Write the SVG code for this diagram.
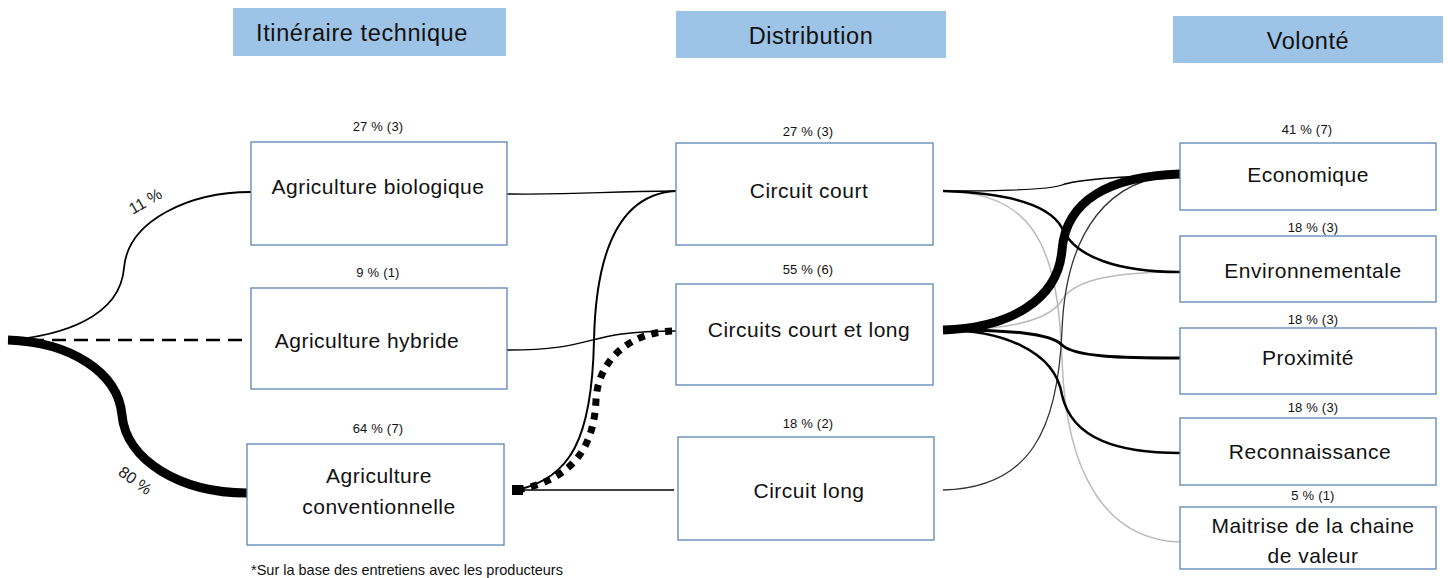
<svg xmlns="http://www.w3.org/2000/svg" width="1448" height="578" viewBox="0 0 1448 578">
<style>
.hdr{fill:#9DC3E6}
.ht{font-family:"Liberation Sans",Arial,sans-serif;font-size:23.5px;letter-spacing:0.6px;fill:#111;text-anchor:middle}
.box{fill:#fff;stroke:#5B85B5;stroke-width:1.3}
.nt{font-family:"Liberation Sans",Arial,sans-serif;font-size:21px;letter-spacing:0.5px;fill:#111;text-anchor:middle}
.pc{font-family:"Liberation Sans",Arial,sans-serif;font-size:13px;letter-spacing:0.2px;fill:#111;text-anchor:middle}
.c{fill:none;stroke:#000}
.g{fill:none;stroke:#bbb}
.d{fill:none;stroke:#333}
.lbl{font-family:"Liberation Sans",Arial,sans-serif;font-size:16px;fill:#222;text-anchor:middle}
</style>
<g id="headers">
<rect class="hdr" x="233" y="8" width="273" height="48"/><text class="ht" x="362" y="41">Itinéraire technique</text>
<rect class="hdr" x="676" y="11" width="270" height="47"/><text class="ht" x="811" y="44">Distribution</text>
<rect class="hdr" x="1173" y="16" width="270" height="47"/><text class="ht" x="1308" y="49">Volonté</text>
</g>
<g id="connectors">
<path class="c" stroke-width="1.8" d="M8,340 C60,336 120,318 124,268 C128,220 190,192 251,192"/>
<path class="c" stroke-width="2.5" stroke-dasharray="14,8" d="M8,340 L248,340"/>
<path class="c" stroke-width="9" d="M8,340 C70,342 118,372 122,415 C126,460 180,493 247,493"/>
<path class="c" stroke-width="1.3" d="M507,194 C590,195 600,191 676,191"/>
<path class="c" stroke-width="1.3" d="M507,350 C600,350 580,331 676,331"/>
<path class="c" stroke-width="1.3" d="M515,490 L674,490"/>
<path class="c" stroke-width="2" d="M517,490 C570,478 592,440 594,340 C596,250 620,194 676,191"/>
<path class="c" stroke-width="7" stroke-dasharray="7,7" d="M517,490 C570,480 594,450 596,400 C598,360 630,331 676,331"/>
<rect x="512" y="485" width="11" height="10" fill="#000"/>
<path class="g" stroke-width="1.5" d="M943,191 C1030,193 1058,240 1062,360 C1066,480 1110,540 1180,542"/>
<path class="g" stroke-width="1.5" d="M943,330 C1010,330 1050,320 1062,300 C1075,278 1120,272 1180,272"/>
<path class="d" stroke-width="1.3" d="M943,490 C1030,488 1058,430 1062,330 C1066,230 1110,177 1180,175"/>
<path class="c" stroke-width="1.3" d="M943,191 C1000,191 1050,190 1062,185 C1075,180 1120,176 1180,175"/>
<path class="c" stroke-width="2.5" d="M943,191 C1010,193 1050,205 1062,228 C1075,258 1120,272 1180,272"/>
<path class="c" stroke-width="3" d="M943,330 C1010,330 1050,333 1062,345 C1075,357 1120,358 1180,358"/>
<path class="c" stroke-width="2.5" d="M943,330 C1000,330 1055,350 1062,395 C1072,440 1120,453 1180,453"/>
<path class="c" stroke-width="9" d="M943,330 C1010,328 1058,300 1062,250 C1066,200 1110,176 1180,174"/>
</g>
<g id="n-bio"><rect class="box" x="251" y="142" width="256" height="103"/><text class="nt" x="378" y="194">Agriculture biologique</text><text class="pc" x="378" y="131">27 % (3)</text></g>
<g id="n-hyb"><rect class="box" x="251" y="288" width="256" height="101"/><text class="nt" x="367" y="348">Agriculture hybride</text><text class="pc" x="378" y="277">9 % (1)</text></g>
<g id="n-conv"><rect class="box" x="247" y="444" width="257" height="101"/><text class="nt" x="379" y="483">Agriculture</text><text class="nt" x="379" y="514">conventionnelle</text><text class="pc" x="378" y="433">64 % (7)</text></g>
<g id="n-court"><rect class="box" x="676" y="143" width="257" height="102"/><text class="nt" x="809" y="198">Circuit court</text><text class="pc" x="808" y="136">27 % (3)</text></g>
<g id="n-courtlong"><rect class="box" x="676" y="284" width="257" height="101"/><text class="nt" x="809" y="337">Circuits court et long</text><text class="pc" x="808" y="274">55 % (6)</text></g>
<g id="n-long"><rect class="box" x="678" y="437" width="256" height="103"/><text class="nt" x="809" y="498">Circuit long</text><text class="pc" x="808" y="428">18 % (2)</text></g>
<g id="n-eco"><rect class="box" x="1180" y="143" width="256" height="67"/><text class="nt" x="1308" y="182">Economique</text><text class="pc" x="1307" y="134">41 % (7)</text></g>
<g id="n-env"><rect class="box" x="1180" y="236" width="256" height="66"/><text class="nt" x="1313" y="278">Environnementale</text><text class="pc" x="1313" y="232">18 % (3)</text></g>
<g id="n-prox"><rect class="box" x="1180" y="328" width="256" height="66"/><text class="nt" x="1308" y="365">Proximité</text><text class="pc" x="1313" y="324">18 % (3)</text></g>
<g id="n-reco"><rect class="box" x="1180" y="418" width="256" height="67"/><text class="nt" x="1310" y="459">Reconnaissance</text><text class="pc" x="1313" y="412">18 % (3)</text></g>
<g id="n-mait"><rect class="box" x="1180" y="507" width="256" height="62"/><text class="nt" x="1313" y="533">Maitrise de la chaine</text><text class="nt" x="1313" y="563">de valeur</text><text class="pc" x="1313" y="500">5 % (1)</text></g>
<g id="labels">
<text class="lbl" transform="translate(148,206) rotate(-30)">11 %</text>
<text class="lbl" transform="translate(132,485) rotate(36)">80 %</text>
<text x="251" y="575" style="font-family:'Liberation Sans',Arial,sans-serif;font-size:14.5px;fill:#111">*Sur la base des entretiens avec les producteurs</text>
</g>
</svg>
